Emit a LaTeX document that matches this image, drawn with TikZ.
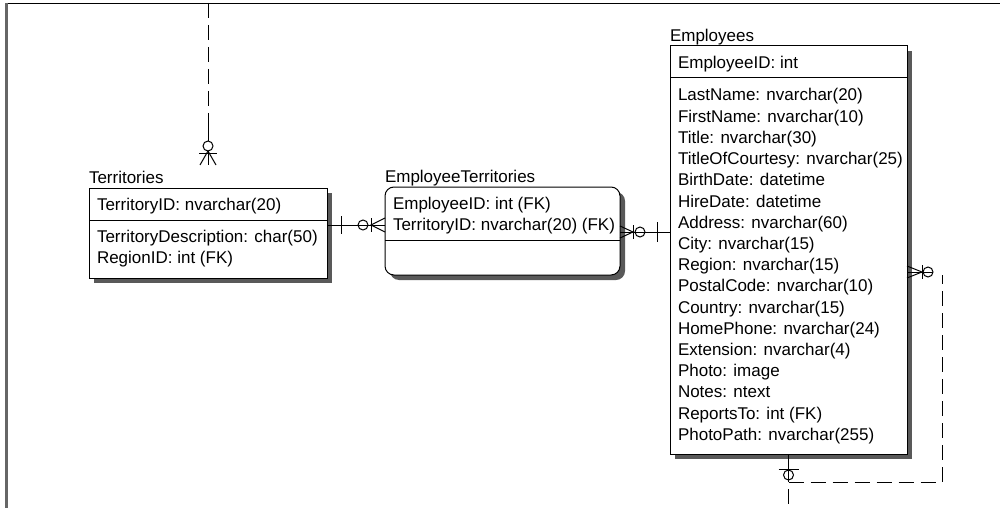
\documentclass[tikz,border=0pt]{standalone}
\usepackage{fontspec}
\setmainfont{Liberation Sans}
\usetikzlibrary{shadows}
\newcommand\erfont{\fontsize{17}{20}\selectfont}
\begin{document}
\begin{tikzpicture}[x=1pt,y=-1pt,
  entity/.style={draw, line width=1pt, fill=white, inner sep=0pt, outer sep=0pt,
    drop shadow={shadow xshift=5pt, shadow yshift=-5pt, fill=black!65, opacity=1}},
  label/.style={anchor=base west, inner sep=0pt, outer sep=0pt, font=\erfont},
  rel/.style={line width=1pt},
  reldash/.style={line width=1pt, dash pattern=on 15pt off 7pt},
  ring/.style={line width=1pt}
]
\useasboundingbox[fill=white] (0,0) rectangle (1000,508);

% page frame
\draw[line width=1.5pt] (5,3.5) -- (1000,3.5);
\draw[line width=3pt, black!60] (6,3) -- (6,508);

% ---------- Territories ----------
\node[entity, minimum width=238pt, minimum height=90pt] (terr) at (208,233) {};
\draw[rel] ([yshift=-32pt]terr.north west) -- ([yshift=-32pt]terr.north east);
\node[label] (terr-title) at (89,183) {Territories};
\node[label] (terr-f1) at (97,210) {TerritoryID: nvarchar(20)};
\node[label] (terr-f2) at (97,242.5) {TerritoryDescription: char(50)};
\node[label] (terr-f3) at (97,263.3) {RegionID: int (FK)};

% ---------- EmployeeTerritories ----------
\node[entity, rounded corners=9pt, minimum width=235pt, minimum height=88pt] (et) at (502.5,231) {};
\draw[rel] ([yshift=-53pt]et.north west) -- ([yshift=-53pt]et.north east);
\node[label] (et-title) at (385,182.7) {EmployeeTerritories};
\node[label] (et-f1) at (393,209.3) {EmployeeID: int (FK)};
\node[label] (et-f2) at (393,230.7) {TerritoryID: nvarchar(20) (FK)};

% ---------- Employees ----------
\node[entity, minimum width=237pt, minimum height=408pt] (emp) at (788.5,250) {};
\draw[rel] ([yshift=-32pt]emp.north west) -- ([yshift=-32pt]emp.north east);
\node[label] (emp-title) at (670,41.7) {Employees};
\node[label] (emp-key) at (678,68.3) {EmployeeID: int};
\foreach \txt [count=\i from 0] in {
  LastName: nvarchar(20), FirstName: nvarchar(10), Title: nvarchar(30),
  TitleOfCourtesy: nvarchar(25), BirthDate: datetime, HireDate: datetime,
  Address: nvarchar(60), City: nvarchar(15), Region: nvarchar(15),
  PostalCode: nvarchar(10), Country: nvarchar(15), HomePhone: nvarchar(24),
  Extension: nvarchar(4), Photo: image, Notes: ntext, ReportsTo: int (FK),
  PhotoPath: nvarchar(255)}
  \node[label] (emp-f\i) at (678,101+21.2*\i) {\txt};

% ---------- Territories -- EmployeeTerritories ----------
\coordinate (te-a) at ([yshift=-37pt]terr.north east);
\coordinate (te-b) at (te-a -| et.west);
\draw[rel] (te-a) -- (te-b);
\draw[rel] ([xshift=14pt,yshift=9pt]te-a) -- ([xshift=14pt,yshift=-9pt]te-a);
\draw[ring] ([xshift=-22pt]te-b) circle[radius=5pt];
\draw[rel] ([xshift=-14pt,yshift=7pt]te-b) -- ([xshift=-14pt,yshift=-7pt]te-b);
\draw[rel] ([yshift=7pt]te-b) -- ([xshift=-14pt]te-b) -- ([yshift=-7pt]te-b);

% ---------- EmployeeTerritories -- Employees ----------
\coordinate (ee-a) at ([yshift=-45pt]et.north east);
\coordinate (ee-b) at (ee-a -| emp.west);
\draw[rel] (ee-a) -- (ee-b);
\draw[rel] ([yshift=6pt]ee-a) -- ([xshift=13pt]ee-a) -- ([yshift=-6pt]ee-a);
\draw[rel] ([xshift=13pt,yshift=7pt]ee-a) -- ([xshift=13pt,yshift=-7pt]ee-a);
\draw[ring] ([xshift=20pt]ee-a) circle[radius=5pt];
\draw[rel] ([xshift=-13pt,yshift=10pt]ee-b) -- ([xshift=-13pt,yshift=-10pt]ee-b);

% ---------- Employees -- Employees (ReportsTo) ----------
\coordinate (sr-a) at ([yshift=-226pt]emp.north east);
\coordinate (sr-c) at ([xshift=35pt]sr-a);
\coordinate (sr-d) at ([yshift=-28pt]emp.south);
\draw[rel] (sr-a) -- ([xshift=26pt]sr-a);
\draw[rel] ([yshift=6pt]sr-a) -- ([xshift=15pt]sr-a) -- ([yshift=-6pt]sr-a);
\draw[rel] ([xshift=15pt,yshift=7pt]sr-a) -- ([xshift=15pt,yshift=-7pt]sr-a);
\draw[ring] ([xshift=21pt]sr-a) circle[radius=5pt];
\draw[rel] (emp.south) -- (sr-d);
\draw[rel] ([yshift=-15pt,xshift=-10pt]emp.south) -- ([yshift=-15pt,xshift=10pt]emp.south);
\draw[ring] ([yshift=-21pt]emp.south) circle[radius=5pt];
\draw[reldash] (sr-d) -- (sr-d -| sr-c) -- ([yshift=-3pt]sr-c);

% ---------- Employees -- (below) ----------
\coordinate (down-end) at (sr-d |- 0,508);
\draw[reldash, dash phase=15pt] (sr-d) -- (down-end);

% ---------- (above) -- Territories ----------
\coordinate (top-end) at (208,3);
\coordinate (tc-ring) at ([yshift=42pt]terr.north);
\draw[reldash] (top-end) -- ([yshift=70pt]terr.north);
\draw[rel] ([yshift=70pt]terr.north) -- ([yshift=47pt]terr.north);
\draw[ring] (tc-ring) circle[radius=5pt];
\draw[rel] ([yshift=37pt]terr.north) -- ([yshift=23pt]terr.north);
\draw[rel] ([xshift=-9pt,yshift=35pt]terr.north) -- ([xshift=9pt,yshift=35pt]terr.north);
\draw[rel] ([xshift=-8pt,yshift=23pt]terr.north) -- ([yshift=37pt]terr.north) -- ([xshift=8pt,yshift=23pt]terr.north);
\end{tikzpicture}
\end{document}
